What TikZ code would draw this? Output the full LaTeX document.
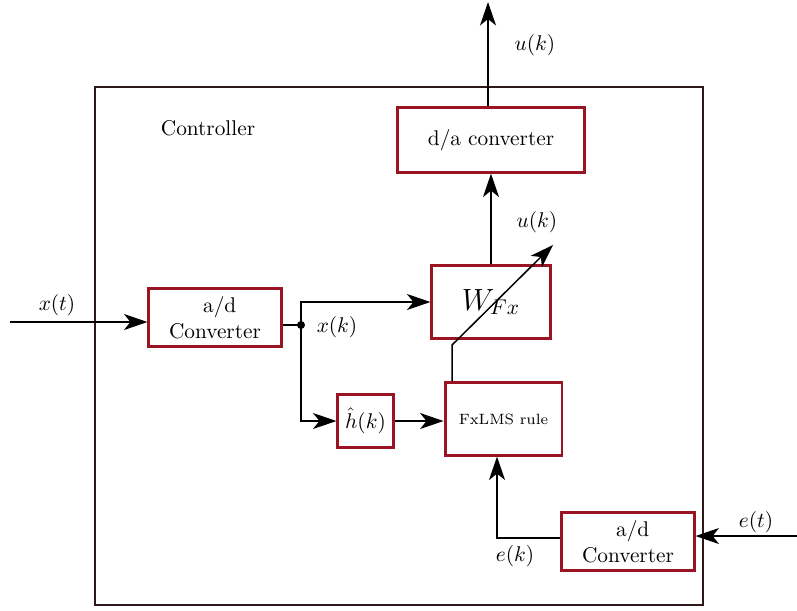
\documentclass[tikz,border=0pt]{standalone}
\usetikzlibrary{arrows.meta}
\definecolor{box edge}{RGB}{155,20,35}
\definecolor{frame edge}{RGB}{45,25,25}
\begin{document}
\begin{tikzpicture}[x=0.165mm, y=-0.165mm,
  blockbox/.style={draw=box edge, line width=1.4pt, inner sep=1pt},
  arr/.style={-{Stealth[length=11pt,width=7.5pt,inset=3pt]}, line width=0.7pt},
  wire/.style={line width=0.7pt}]
\useasboundingbox (0,0) rectangle (797,610);

% controller frame
\draw[frame edge, line width=0.5pt] (95,87) rectangle (703,605);
\node (ctrl) at (208,128) {Controller};

% blocks
\node[blockbox, minimum width=30.7mm, minimum height=10.6mm] (da) at (491,140) {d/a converter};
\node[blockbox, minimum width=19.5mm, minimum height=11.9mm] (wfx) at (491,302) {\Large $W_{Fx}$};
\node[blockbox, minimum width=21.8mm, minimum height=9.7mm, align=left] (adl) at (215,317.5) {\hspace*{1.6em}a/d\\Converter};
\node[blockbox, minimum width=9.1mm, minimum height=8.6mm] (hh) at (365.5,421) {$\hat{h}(k)$};
\node[blockbox, minimum width=19.3mm, minimum height=11.9mm] (lms) at (503.5,419) {\scriptsize FxLMS rule};
\node[blockbox, minimum width=21.8mm, minimum height=9.7mm, align=left] (adr) at (628,541.5) {\hspace*{1.6em}a/d\\Converter};

% free ends
\coordinate (xin) at (10,322);
\coordinate (ein) at (797,536);
\coordinate (uout) at (488,2);
\coordinate (split) at (301,325);
\coordinate (bend) at (452,345);
\coordinate (tip) at (553,245);
\coordinate (eturn) at (497,538);

% connectors
\draw[arr] (xin) -- (xin -| adl.west);
\draw[wire] (split -| adl.east) -- (split);
\fill (split) circle (4);
\draw[arr] (split) |- (wfx.west);
\draw[arr] (split) |- (hh.west);
\draw[arr] (hh.east) -- (hh.east -| lms.west);
\draw[arr] (wfx.north) -- (da.south);
\draw[arr] (da.north -| uout) -- (uout);
\draw[arr] (lms.north -| bend) -- (bend) -- (tip);
\draw[arr] (ein) -- (ein -| adr.east);
\draw[arr] (eturn -| adr.west) -- (eturn) -- (eturn |- lms.south);

% signal labels
\node (xt) at (57,305) {$x(t)$};
\node (xk) at (337,327) {$x(k)$};
\node (et) at (756,522) {$e(t)$};
\node (ek) at (515,556) {$e(k)$};
\node (uk1) at (535,45) {$u(k)$};
\node (uk2) at (537,222) {$u(k)$};
\end{tikzpicture}
\end{document}
